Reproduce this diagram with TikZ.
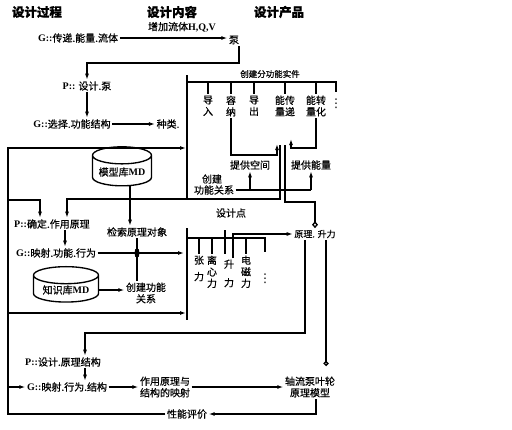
\documentclass[tikz,border=0pt]{standalone}
\usepackage{fontspec}
\setmainfont{Liberation Serif}
\newfontfamily\cjk[FakeBold=0.6]{Noto Sans CJK SC}
\newfontfamily\sym{DejaVu Sans}
\usetikzlibrary{arrows.meta,shapes.geometric}
\newcommand\lat[1]{{\rmfamily\bfseries #1}}

\tikzset{
  lbl/.style={font=\cjk\fontsize{10}{11.5}\selectfont, inner sep=1pt, align=center},
  head/.style={font=\cjk\bfseries\fontsize{12.5}{14}\selectfont, inner sep=1pt},
  tiny/.style={font=\cjk\fontsize{8.5}{10}\selectfont, inner sep=1pt},
  vdots/.style={font=\sym\fontsize{12}{12}\selectfont, inner sep=0pt},
  arr/.style={-{Latex[length=6pt,width=4pt]}},
  db/.style={lbl, cylinder, shape border rotate=90, draw, aspect=0.35},
}

\begin{document}
\begin{tikzpicture}[x=1pt,y=-1pt,line width=1.35pt]
    \useasboundingbox (0,0) rectangle (512,429);

    % Column headings
    \node[head] (hproc) at (37,12) {设计过程};
    \node[head] (hcont) at (172,12) {设计内容};
    \node[head] (hprod) at (279,12) {设计产品};

    % Free ends of the feedback frame
    \coordinate (fbtop) at (8,148);
    \coordinate (b1in) at (186,148);
    \coordinate (fb1) at (8,200);
    \coordinate (fb2) at (8,313);
    \coordinate (b2in) at (186,313);
    \coordinate (fb3) at (8,387);
    \coordinate (b2cross) at (184,253);

    % G: transfer energy to fluid -> pump
    \node[lbl] (gflow) at (78,38) {\lat{G::}传递.能量.流体};
    \node[lbl] (pump) at (234,40) {泵};
    \node[lbl] (addq) at (182,27) {增加流体\lat{H,Q,V}};
    \draw[arr] (gflow) -- (gflow -| pump.west);

    % P: design the pump, G: choose the function structure
    \node[lbl] (pdes) at (87,86) {\lat{P::} 设计.泵};
    \node[lbl] (gsel) at (72,124) {\lat{G::}选择.功能结构};
    \node[lbl] (kind) at (168,124) {种类.};
    \draw[arr] ([xshift=5pt]pump.south) -- ++(0,17) -| (pdes.north);
    \draw[arr] (pdes.south) -- (pdes.south |- gsel.north);
    \draw[arr] (gsel) -- (kind);

    % Box 1: sub-function carriers
    \draw (187,75) -- (187,199);
    \draw (187,82) -- (336,82) -- (336,92);
    \node[tiny] (mksub) at (270,74) {创建分功能实件};
    \foreach \i/\x/\txt in {1/208/导\\入, 2/231/容\\纳, 3/254/导\\出, 4/285/能传\\量递, 5/316/能转\\量化}{
        \draw (\x,82) -- (\x,94) node[lbl, below, name=sub\i] {\txt};
    }
    \node[vdots] (more1) at (336,104) {⋮};

    % Provide space / energy
    \coordinate (hubl) at (277,144);
    \coordinate (hubr) at (291,139);
    \coordinate (hubA) at (280,145);
    \coordinate (hubB) at (285,145);
    \node[lbl] (space) at (250,165) {提供空间};
    \node[lbl] (energy) at (311,165) {提供能量};
    \draw[arr] (sub2.south) -- (sub2.south |- 0,155) -| (hubl);
    \draw[arr] (sub5.south) -- (sub5.south |- 0,148) -| (hubr);

    % Create functional relation (top)
    \node[lbl] (crf1t) at (212,179) {创建};
    \node[lbl] (crf1) at (214,190) {功能关系};
    \draw (crf1.east) -- (crf1.east -| energy.south);
    \draw[arr] (crf1.east -| space.south) -- (space.south);
    \draw[arr] (crf1.east -| energy.south) -- (energy.south);

    % Feedback frame on the left
    \node[lbl] (perf) at (187,414) {性能评价};
    \draw[arr] (perf.west) -| (fbtop) -- (b1in);

    % P: determine working principle
    \node[lbl] (pdet) at (52,224) {\lat{P::}确定.作用原理};
    \draw[arr] (fb1) -| ([xshift=-12pt]pdet.north);
    \draw[arr] (hubA) -- (hubA |- 0,199) -| ([xshift=15pt]pdet.north);

    % Model library
    \node[db, minimum width=59pt, minimum height=39pt] (mlib) at (122,172) {模型库\lat{MD}};
    \node[lbl] (search) at (137,232) {检索原理对象};
    \draw[arr] ([xshift=8pt]mlib.south) -- ([xshift=8pt]mlib.south |- search.north);

    % G: map function to behaviour
    \node[lbl] (gmap1) at (56,253) {\lat{G::}映射.功能.行为};
    \draw[arr] ([xshift=13pt]pdet.south) -- ([xshift=13pt]pdet.south |- gmap1.north);
    \draw[arr] (gmap1) -- (b2cross);

    % Knowledge base
    \node[db, minimum width=65pt, minimum height=35pt] (kbase) at (66,290) {知识库\lat{MD}};
    \node[lbl] (crf2) at (146,293) {创建功能\\关系};
    \draw (search.south) -- (search.south |- crf2.north);
    \fill (search.south |- gmap1) ellipse [x radius=2.5, y radius=5];
    \draw[arr] (kbase.east) -- (kbase.east -| crf2.west);
    \draw[arr] (fb2) -- (b2in);

    % Box 2: design point
    \node[lbl] (dpt) at (231,213) {设计点};
    \draw (187,228) -- (187,320);
    \draw (187,238) -- (265,238) -- (265,252);
    \foreach \i/\x/\txt in {1/199/张\\[5pt]力, 2/212/离\\心\\力, 4/246/电\\磁\\力}{
        \draw (\x,238) -- (\x,254) node[lbl, below, name=force\i] {\txt};
    }
    \draw (225,230) -- (225,254);
    \node[lbl, anchor=north] (force3) at (229,258) {升\\[7pt]力};
    \node[vdots] (more2) at (265,279) {⋮};
    \node[lbl, font=\cjk\fontsize{9}{10}\selectfont] (prin) at (315,234) {原理. 升力};
    \draw[arr] ([xshift=4pt]force3.north) |- (prin.west);
    \draw[-{Diamond[open,length=7pt,width=6pt]}] (hubB) -- (hubB |- 0,202) -| (prin.north);

    % P: design principle structure
    \node[lbl] (pstr) at (63,362) {\lat{P::}设计.原理结构};
    \coordinate (back) at (85,333);
    \draw[arr] ([xshift=-10pt]prin.south) |- (back) -- (back |- pstr.north);

    % Principle model of the impeller
    \node[lbl] (model) at (310,387) {轴流泵叶轮\\原理模型};
    \draw[-{Circle[open,length=5pt]}, shorten >=9pt] ([xshift=11pt]prin.south) -- ([xshift=11pt]prin.south |- model.north);

    % G: map behaviour to structure
    \node[lbl] (gmap2) at (67,387) {\lat{G::}映射.行为.结构};
    \node[lbl] (map) at (165,387) {作用原理与\\结构的映射};
    \draw[arr] ([xshift=22pt]pstr.south) -- ([xshift=22pt]pstr.south |- gmap2.north);
    \draw[arr] (fb3) -- (gmap2);
    \draw[arr] (gmap2) -- (map);
    \draw[arr] (map) -- (model);
    \draw[arr] ([xshift=6pt]model.south) |- (perf);
\end{tikzpicture}
\end{document}
